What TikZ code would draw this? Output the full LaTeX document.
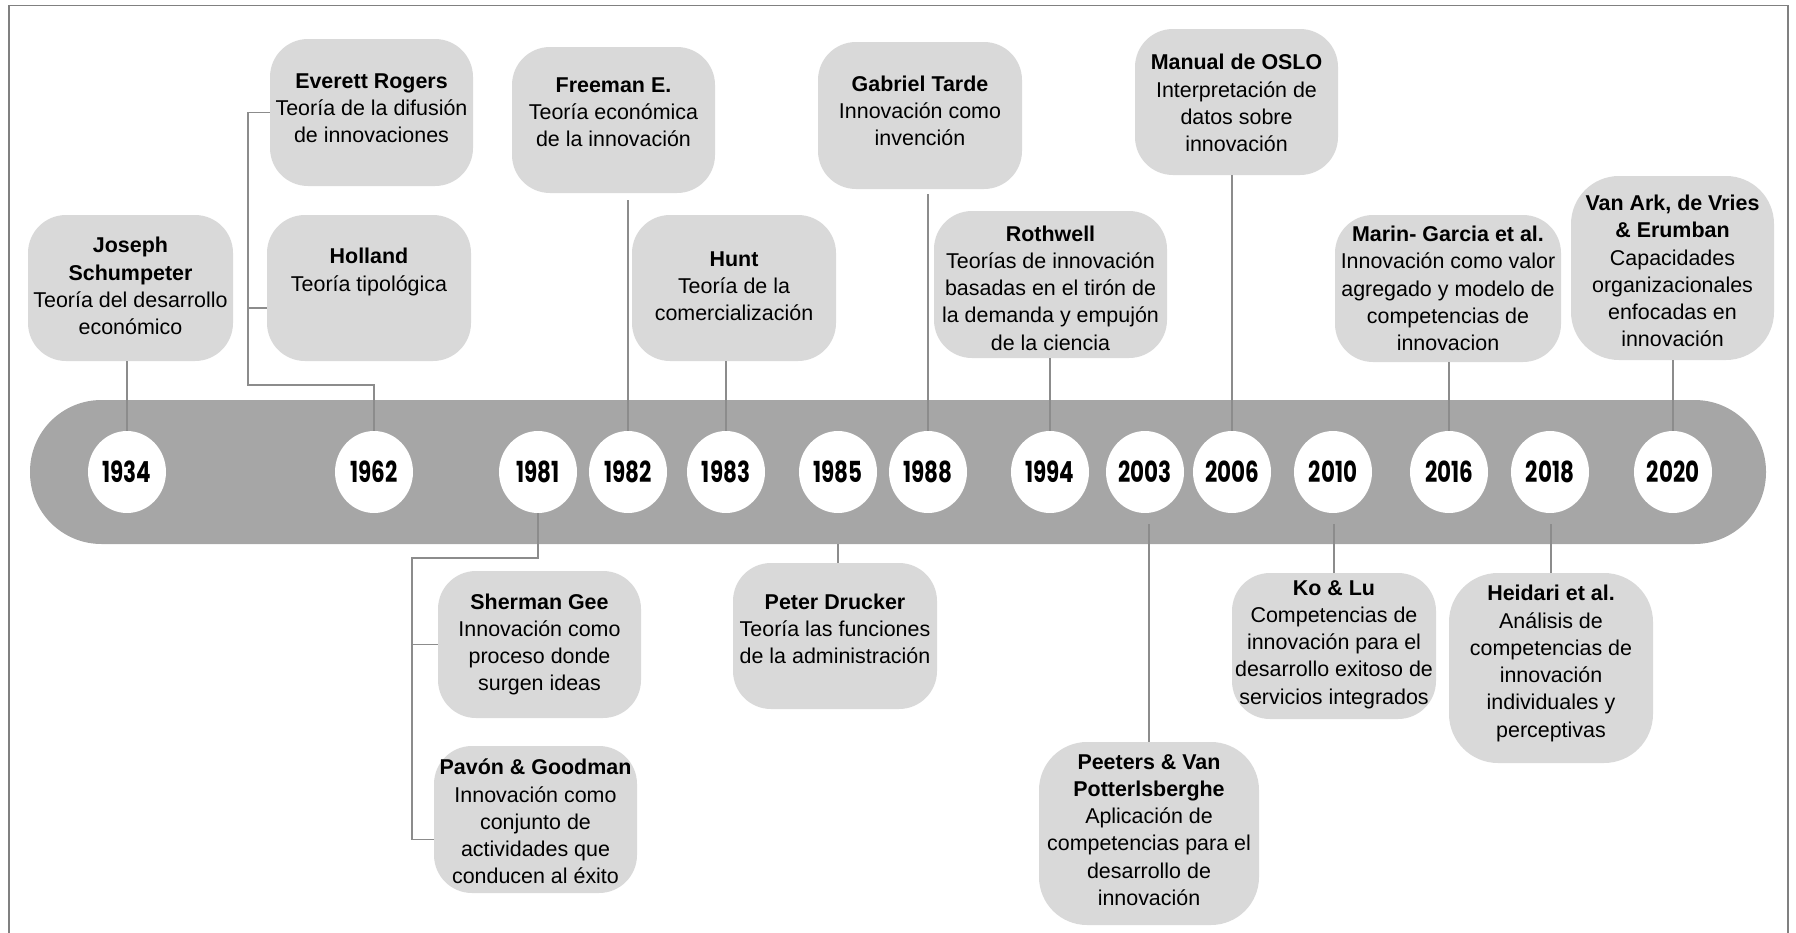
\documentclass[tikz,border=0pt]{standalone}
\usepackage{fontspec}
\setmainfont{Liberation Sans}
\newfontfamily\yearfont{Poppins}[FakeStretch=0.74]
\usetikzlibrary{shapes.geometric}

\definecolor{boxgray}{HTML}{D9D9D9}
\definecolor{bargray}{HTML}{A6A6A6}
\definecolor{linegray}{HTML}{8C8C8C}
\definecolor{framegray}{HTML}{808080}

\tikzset{
  boxshape/.style={draw=none, fill=boxgray, inner sep=0pt},
  boxtext/.style={align=center, inner sep=0pt, text=black, font=\fontsize{12.2}{15.5}\selectfont},
  yearc/.style={ellipse, fill=white, minimum width=1.56cm, minimum height=1.64cm, inner sep=0pt,
    font=\yearfont\bfseries\fontsize{16.5}{18}\selectfont},
  conn/.style={draw=linegray, line width=0.6pt},
  frameline/.style={draw=framegray, line width=0.9pt},
  barshape/.style={fill=bargray, inner sep=0pt, rounded corners=1.43cm},
}

% rounded grey card: name, centre x, centre y, width, height (px), corner radius, text lift (px), text
\newcommand{\tlbox}[8]{%
  \node[boxshape, minimum width=#4*0.02cm, minimum height=#5*0.02cm, rounded corners=#6*0.02cm] (#1) at (#2,#3) {};
  \node[boxtext] (#1-t) at ([yshift=#7*0.02cm]#1.center) {#8};
}

\begin{document}
\begin{tikzpicture}[x=0.02cm, y=-0.02cm]
\useasboundingbox (0,0) rectangle (1796,933);

% outer frame (open at the bottom)
\draw[frameline] (9,933) -- (9,5.5) -- (1788,5.5) -- (1788,933);

% timeline bar and year markers
\node[barshape, minimum width=1736*0.02cm, minimum height=144*0.02cm] (bar) at (898,472) {};
\foreach \yr/\xx in {1934/127, 1962/374, 1981/538, 1982/628, 1983/726, 1985/838, 1988/928,
                     1994/1050, 2003/1145, 2006/1232, 2010/1333, 2016/1449, 2018/1550, 2020/1673}
  \node[yearc] (c\yr) at (\xx,472) {\yr};

% cards above the bar
\tlbox{schump}{130.5}{288}{205}{146}{38}{2}{\textbf{Joseph}\\\textbf{Schumpeter}\\Teoría del desarrollo\\económico}
\tlbox{rogers}{371.5}{112.5}{203}{147}{38}{4.5}{\textbf{Everett Rogers}\\Teoría de la difusión\\de innovaciones}
\tlbox{holland}{369}{288}{204}{146}{38}{16}{\textbf{Holland}\\Teoría tipológica}
\tlbox{freeman}{613.5}{120}{203}{146}{38}{8}{\textbf{Freeman E.}\\Teoría económica\\de la innovación}
\tlbox{hunt}{734}{288}{204}{146}{38}{2}{\textbf{Hunt}\\Teoría de la\\comercialización}
\tlbox{tarde}{920}{115.5}{204}{147}{38}{4.5}{\textbf{Gabriel Tarde}\\Innovación como\\invención}
\tlbox{rothwell}{1050.5}{284.5}{233}{147}{38}{-3.5}{\textbf{Rothwell}\\Teorías de innovación\\basadas en el tirón de\\la demanda y empujón\\de la ciencia}
\tlbox{oslo}{1236.5}{102}{203}{146}{38}{-1}{\textbf{Manual de OSLO}\\Interpretación de\\datos sobre\\innovación}
\tlbox{marin}{1448}{288.5}{226}{147}{38}{0}{\textbf{Marin- Garcia et al.}\\Innovación como valor\\agregado y modelo de\\competencias de\\innovacion}
\tlbox{vanark}{1672.5}{268}{203}{184}{48}{-3}{\textbf{Van Ark, de Vries}\\\textbf{\& Erumban}\\Capacidades\\organizacionales\\enfocadas en\\innovación}

% cards below the bar
\tlbox{sherman}{539.5}{644.5}{203}{147}{38}{0}{\textbf{Sherman Gee}\\Innovación como\\proceso donde\\surgen ideas}
\tlbox{pavon}{535.5}{819.5}{203}{147}{38}{-2}{\textbf{Pavón \& Goodman}\\Innovación como\\conjunto de\\actividades que\\conducen al éxito}
\tlbox{drucker}{835}{636}{204}{146}{38}{7}{\textbf{Peter Drucker}\\Teoría las funciones\\de la administración}
\tlbox{peeters}{1149}{833.5}{220}{183}{48}{3.5}{\textbf{Peeters \& Van}\\\textbf{Potterlsberghe}\\Aplicación de\\competencias para el\\desarrollo de\\innovación}
\tlbox{ko}{1334}{646}{204}{146}{38}{1.5}{\textbf{Ko \& Lu}\\Competencias de\\innovación para el\\desarrollo exitoso de\\servicios integrados}
\tlbox{heidari}{1551}{668}{204}{190}{49}{4.5}{\textbf{Heidari et al.}\\Análisis de\\competencias de\\innovación\\individuales y\\perceptivas}

% connectors to the upper cards
\draw[conn] (c1934.north) -- (c1934.north |- schump.south);
\coordinate (b62) at (248,385);
\draw[conn] (rogers.west) -| (b62) -| (c1962.north);
\draw[conn] ([yshift=-0.4cm]holland.west) -- ([yshift=-0.4cm]holland.west -| b62);
\draw[conn] (c1982.north) -- ([yshift=-0.14cm]c1982.north |- freeman.south);
\draw[conn] (c1983.north) -- (c1983.north |- hunt.south);
\draw[conn] (c1988.north) -- ([yshift=-0.1cm]c1988.north |- tarde.south);
\draw[conn] (c1994.north) -- (c1994.north |- rothwell.south);
\draw[conn] (c2006.north) -- (c2006.north |- oslo.south);
\draw[conn] (c2016.north) -- (c2016.north |- marin.south);
\draw[conn] (c2020.north) -- (c2020.north |- vanark.south);

% connectors to the lower cards
\coordinate (b81) at (412,558);
\draw[conn] (c1981.south) |- (b81) |- ([yshift=-0.4cm]pavon.west);
\draw[conn] (sherman.west) -- (sherman.west -| b81);
\draw[conn] (c1985.south |- bar.south) -- (c1985.south |- drucker.north);
\draw[conn] ([yshift=-0.22cm]peeters.north |- c2003.south) -- (peeters.north);
\draw[conn] ([yshift=-0.22cm]ko.north |- c2010.south) -- (ko.north);
\draw[conn] ([yshift=-0.22cm]heidari.north |- c2018.south) -- (heidari.north);
\end{tikzpicture}
\end{document}
